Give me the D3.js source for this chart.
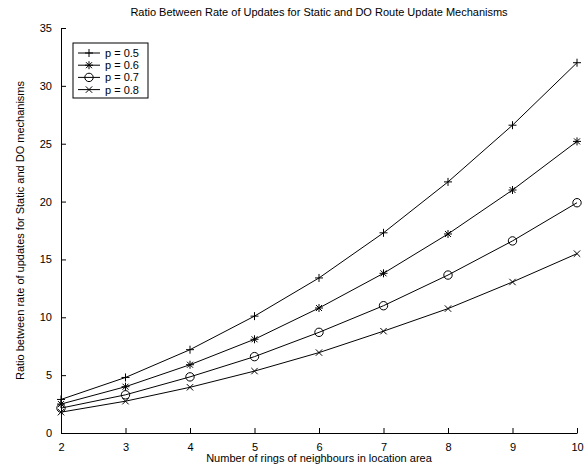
<!DOCTYPE html>
<html>
<head>
<meta charset="utf-8">
<script src="https://cdn.jsdelivr.net/npm/d3@7"></script>
<style>
  body { margin: 0; background: #fff; }
  svg { font-family: "Liberation Sans", Arial, sans-serif; }
  .axis path, .axis line { stroke: #000; }
  .axis text { font-size: 11px; fill: #000; }
</style>
</head>
<body>
<svg id="chart"></svg>
<script>
const rings = [2, 3, 4, 5, 6, 7, 8, 9, 10]
const labels = ['p = 0.5', 'p = 0.6', 'p = 0.7', 'p = 0.8']
const markers = ['plus', 'star', 'circle', 'cross']
const p05 = [2.9, 4.8, 7.2, 10.1, 13.4, 17.3, 21.7, 26.6, 32.0]
const p06 = [2.5, 4.0, 5.9, 8.1, 10.8, 13.8, 17.2, 21.0, 25.2]
const p07 = [2.15, 3.3, 4.85, 6.6, 8.7, 11.0, 13.65, 16.6, 19.9]
const p08 = [1.8, 2.75, 3.95, 5.35, 6.95, 8.8, 10.75, 13.05, 15.5]
const series = [p05, p06, p07, p08]
const yTicks = [0, 5, 10, 15, 20, 25, 30, 35]

const width = 588, height = 468
const margin = {top: 28, right: 11, bottom: 35, left: 61}

const svg = d3.select('#chart').attr('width', width).attr('height', height)

const x = d3.scaleLinear().domain([2, 10]).range([margin.left, width - margin.right])
const y = d3.scaleLinear().domain([0, 35]).range([height - margin.bottom, margin.top])

// axes, ticks pointing inward like the matlab figure
svg.append('g')
	.attr('class', 'axis')
	.attr('transform', `translate(0, ${y(0)})`)
	.call(d3.axisBottom(x).tickValues(rings).tickSize(-5).tickPadding(10).tickSizeOuter(0))

svg.append('g')
	.attr('class', 'axis')
	.attr('transform', `translate(${x(2)}, 0)`)
	.call(d3.axisLeft(y).tickValues(yTicks).tickSize(-5).tickPadding(9).tickSizeOuter(0))

function drawMarker (g, type) {
	const s = 4
	if (type === 'plus' || type === 'star') {
		g.append('path').attr('d', `M${-s},0H${s}M0,${-s}V${s}`)
	}
	if (type === 'cross' || type === 'star') {
		const c = type === 'star' ? 3 : 3.2
		g.append('path').attr('d', `M${-c},${-c}L${c},${c}M${-c},${c}L${c},${-c}`)
	}
	if (type === 'circle') {
		g.append('circle').attr('r', 4.2).attr('fill', 'none')
	}
	g.attr('stroke', '#000').attr('stroke-width', 1).attr('fill', 'none')
}

const line = d3.line().x((d, i) => x(rings[i])).y(d => y(d))

series.forEach((vals, k) => {
	svg.append('path')
		.attr('d', line(vals))
		.attr('fill', 'none')
		.attr('stroke', '#000')
		.attr('stroke-width', 1)
	vals.forEach((v, i) => {
		const g = svg.append('g').attr('transform', `translate(${x(rings[i])}, ${y(v)})`)
		drawMarker(g, markers[k])
	})
})

// legend
const legend = svg.append('g').attr('transform', 'translate(73, 43)')
legend.append('rect')
	.attr('width', 75).attr('height', 55)
	.attr('fill', '#fff').attr('stroke', '#000')
labels.forEach((lab, k) => {
	const yy = 10 + k * 12.2
	legend.append('line')
		.attr('x1', 5).attr('x2', 27).attr('y1', yy).attr('y2', yy)
		.attr('stroke', '#000')
	const g = legend.append('g').attr('transform', `translate(16, ${yy})`)
	drawMarker(g, markers[k])
	legend.append('text')
		.attr('x', 32).attr('y', yy + 4)
		.attr('font-size', 11)
		.text(lab)
})

svg.append('text')
	.attr('x', (x(2) + x(10)) / 2).attr('y', 16)
	.attr('text-anchor', 'middle').attr('font-size', 11)
	.text('Ratio Between Rate of Updates for Static and DO Route Update Mechanisms')

svg.append('text')
	.attr('x', (x(2) + x(10)) / 2).attr('y', height - 6)
	.attr('text-anchor', 'middle').attr('font-size', 11)
	.text('Number of rings of neighbours in location area')

svg.append('text')
	.attr('transform', `translate(24, ${(y(0) + y(35)) / 2}) rotate(-90)`)
	.attr('text-anchor', 'middle').attr('font-size', 11)
	.text('Ratio between rate of updates for Static and DO mechanisms')
</script>
</body>
</html>
